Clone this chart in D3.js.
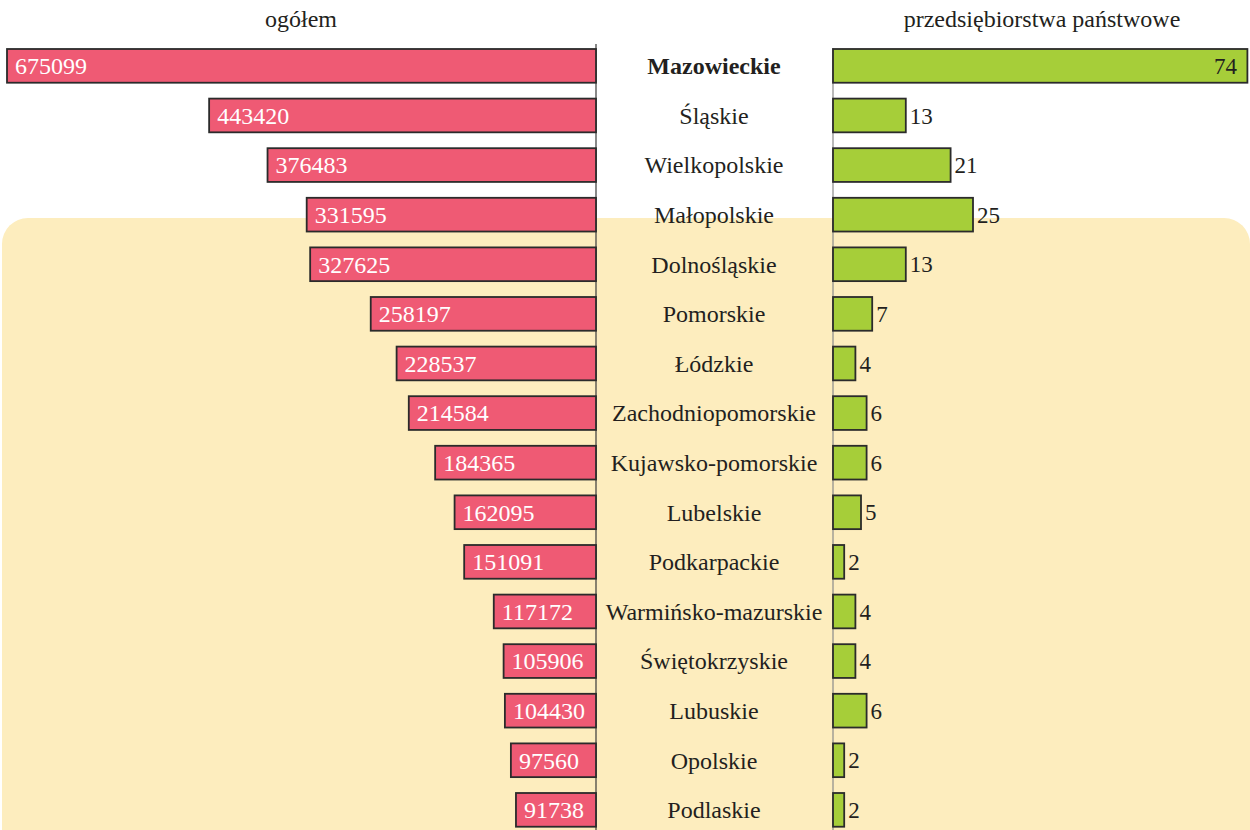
<!DOCTYPE html>
<html>
<head>
<meta charset="utf-8">
<script src="https://cdn.jsdelivr.net/npm/d3@7"></script>
<style>
  html, body { margin: 0; padding: 0; background: #ffffff; }
  svg { display: block; }
  text { font-family: "Liberation Serif", "Times New Roman", Times, serif; fill: #231f20; }
</style>
</head>
<body>
<svg id="chart" width="1250" height="830"></svg>
<script>
// Voivodeships, ordered by total number of enterprises
const regions = [
  "Mazowieckie", "Śląskie", "Wielkopolskie", "Małopolskie", "Dolnośląskie",
  "Pomorskie", "Łódzkie", "Zachodniopomorskie", "Kujawsko-pomorskie", "Lubelskie",
  "Podkarpackie", "Warmińsko-mazurskie", "Świętokrzyskie", "Lubuskie", "Opolskie", "Podlaskie"
];
// ogółem
const totalValues = [
  675099, 443420, 376483, 331595, 327625, 258197, 228537, 214584,
  184365, 162095, 151091, 117172, 105906, 104430, 97560, 91738
];
// przedsiębiorstwa państwowe
const stateValues = [74, 13, 21, 25, 13, 7, 4, 6, 6, 5, 2, 4, 4, 6, 2, 2];

const leftTitle = "ogółem";
const rightTitle = "przedsiębiorstwa państwowe";

const svg = d3.select("#chart");
const W = 1250, H = 830;
const FONT = "'Liberation Serif', 'Times New Roman', Times, serif";

const leftZero = 596, rightZero = 833;
const step = 49.6, pad = 0.32;

const y = d3.scaleBand()
  .domain(regions)
  .range([49, 49 + step * (regions.length - pad)])
  .paddingInner(pad)
  .paddingOuter(0);

const xLeft = d3.scaleLinear()
  .domain([0, 675099])
  .range([leftZero, 7]);

const xRight = d3.scaleLinear()
  .domain([0, 74])
  .range([rightZero, rightZero + 74 * 5.6]);

// Background panel
svg.append("rect")
  .attr("x", 2).attr("y", 218)
  .attr("width", 1248).attr("height", H)
  .attr("rx", 26).attr("ry", 26)
  .attr("fill", "#fdedbe");

// Titles
svg.append("text")
  .attr("x", 301).attr("y", 27)
  .attr("text-anchor", "middle")
  .attr("font-family", FONT)
  .attr("font-size", 24)
  .text(leftTitle);
svg.append("text")
  .attr("x", 1042).attr("y", 27)
  .attr("text-anchor", "middle")
  .attr("font-family", FONT)
  .attr("font-size", 24)
  .text(rightTitle);

// Baselines
svg.append("line")
  .attr("x1", leftZero).attr("x2", leftZero)
  .attr("y1", 44).attr("y2", H)
  .attr("stroke", "#3a3a3a").attr("stroke-width", 1.2);
svg.append("line")
  .attr("x1", rightZero).attr("x2", rightZero)
  .attr("y1", 48).attr("y2", H)
  .attr("stroke", "#8a8a8a").attr("stroke-width", 1.2);

const rows = regions.map((r, i) => ({ region: r, total: totalValues[i], state: stateValues[i] }));

// Left bars (total)
svg.append("g").selectAll("rect")
  .data(rows).join("rect")
  .attr("x", d => xLeft(d.total))
  .attr("y", d => y(d.region))
  .attr("width", d => leftZero - xLeft(d.total))
  .attr("height", y.bandwidth())
  .attr("fill", "#ef5a74")
  .attr("stroke", "#2b2b2b")
  .attr("stroke-width", 1.8);

svg.append("g").selectAll("text")
  .data(rows).join("text")
  .attr("x", d => xLeft(d.total) + 8)
  .attr("y", d => y(d.region) + y.bandwidth() / 2)
  .attr("dy", "0.35em")
  .attr("font-family", FONT)
  .attr("font-size", 24)
  .style("fill", "#ffffff")
  .text(d => d.total);

// Right bars (state-owned enterprises)
svg.append("g").selectAll("rect")
  .data(rows).join("rect")
  .attr("x", rightZero)
  .attr("y", d => y(d.region))
  .attr("width", d => xRight(d.state) - rightZero)
  .attr("height", y.bandwidth())
  .attr("fill", "#a6ce39")
  .attr("stroke", "#2b2b2b")
  .attr("stroke-width", 1.8);

svg.append("g").selectAll("text")
  .data(rows).join("text")
  .attr("x", (d, i) => i === 0 ? 1237 : xRight(d.state) + 4)
  .attr("y", d => y(d.region) + y.bandwidth() / 2)
  .attr("dy", "0.35em")
  .attr("text-anchor", (d, i) => i === 0 ? "end" : "start")
  .attr("font-family", FONT)
  .attr("font-size", 23)
  .text(d => d.state);

// Region labels
svg.append("g").selectAll("text")
  .data(rows).join("text")
  .attr("x", 714)
  .attr("y", d => y(d.region) + y.bandwidth() / 2)
  .attr("dy", "0.35em")
  .attr("text-anchor", "middle")
  .attr("font-family", FONT)
  .attr("font-size", 24)
  .attr("font-weight", (d, i) => i === 0 ? "bold" : "normal")
  .text(d => d.region);
</script>
</body>
</html>
